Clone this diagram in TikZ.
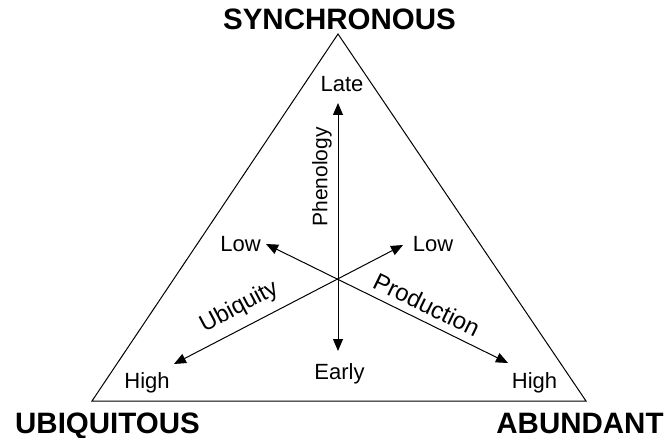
\documentclass[tikz,border=0pt]{standalone}
\usepackage{fontspec}
\setmainfont{Liberation Sans}
\usetikzlibrary{arrows.meta}
\begin{document}
\begin{tikzpicture}[x=1pt,y=-1pt,
  lbl/.style={inner sep=0pt,font=\fontsize{22}{26}\selectfont},
  dlbl/.style={inner sep=0pt,anchor=base,font=\fontsize{24}{28}\selectfont},
  ttl/.style={inner sep=0pt,anchor=base,font=\fontsize{29.5}{34}\selectfont\bfseries},
  axis/.style={line width=1pt,{Triangle[length=12pt,width=10pt]}-{Triangle[length=12pt,width=10pt]}},
  edge/.style={line width=1pt,line join=miter}]
\useasboundingbox (0,0) rectangle (668,438);
% triangle vertices
\coordinate (A) at (338,34);
\coordinate (BL) at (92,401);
\coordinate (BR) at (586,401);
\draw[edge] (A) -- (BR) -- (BL) -- cycle;
% axis ends
\coordinate (late) at (338,103);
\coordinate (early) at (338,351);
\coordinate (lowL) at (266,244);
\coordinate (highR) at (508,363);
\coordinate (lowR) at (403,245);
\coordinate (highL) at (174,364);
\draw[axis] (early) -- (late);
\draw[axis] (highL) -- (lowR);
\draw[axis] (lowL) -- (highR);
% labels
\node[lbl,anchor=base] (tlate) at (342,92) {Late};
\node[lbl,anchor=base] (tearly) at (339.5,379) {Early};
\node[lbl,anchor=base] (tlowl) at (240.5,251) {Low};
\node[lbl,anchor=base] (tlowr) at (433,251) {Low};
\node[lbl,anchor=base] (thighl) at (147,388) {High};
\node[lbl,anchor=base] (thighr) at (534.5,388) {High};
\node[lbl,font=\fontsize{21}{25}\selectfont,rotate=90] (tphen) at (322,177) {Phenology};
\node[dlbl,font=\fontsize{23.5}{28}\selectfont,rotate=28] (tubiq) at (242,312.5) {Ubiquity};
\node[dlbl,rotate=-26] (tprod) at (423,312.5) {Production};
% titles
\node[ttl] (tsync) at (339.5,30) {SYNCHRONOUS};
\node[ttl] (tubi) at (107.5,433) {UBIQUITOUS};
\node[ttl] (tabu) at (580,433) {ABUNDANT};
\end{tikzpicture}
\end{document}
